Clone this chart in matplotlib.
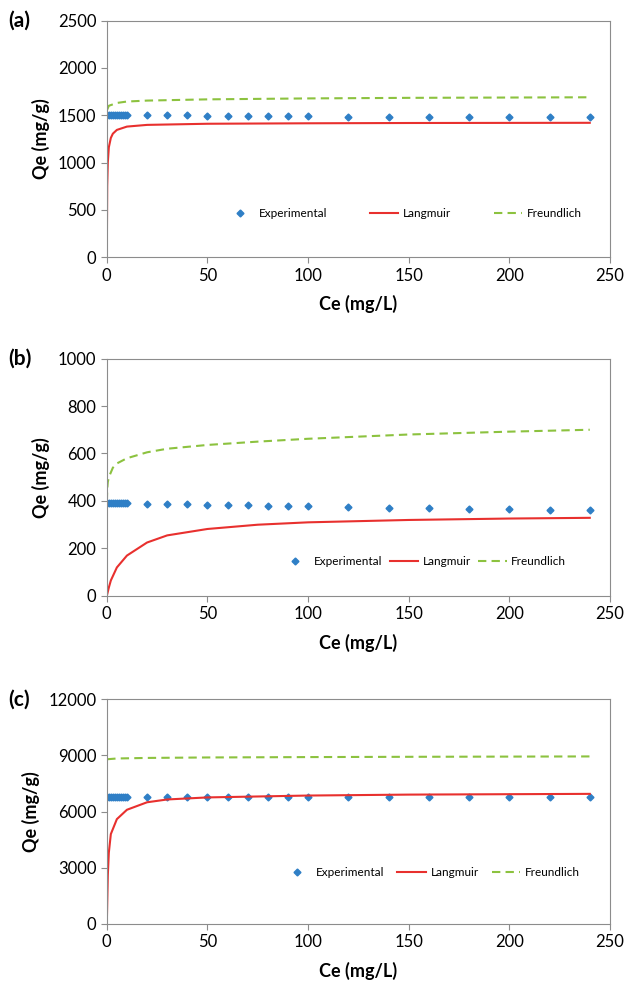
import matplotlib
matplotlib.use("Agg")
import matplotlib.pyplot as plt

plt.rcParams['font.family'] = ['Lato', 'DejaVu Sans']

# Experimental Ce values (mg/L)
ce_exp = [0, 1, 2, 3, 4, 5, 6, 7, 8, 9, 10,
          20, 30, 40, 50, 60, 70, 80, 90, 100,
          120, 140, 160, 180, 200, 220, 240]

# (a)
qe_exp_a = [1505] * 11 + [1505, 1505, 1505, 1495, 1495, 1495, 1495, 1495, 1495,
                          1485, 1485, 1485, 1485, 1478, 1478, 1478]
lang_x_a = [0, 0.2, 0.5, 1, 2, 3, 5, 10, 20, 50, 100, 150, 240]
lang_y_a = [0, 750, 1000, 1160, 1260, 1305, 1345, 1380, 1398, 1410, 1415, 1418, 1420]
freu_x_a = [0.2, 1, 5, 10, 20, 50, 100, 150, 240]
freu_y_a = [1560, 1600, 1630, 1645, 1655, 1668, 1678, 1684, 1690]

# (b)
qe_exp_b = [390] * 11 + [387, 387, 387, 383, 383, 383, 380, 380, 380,
                         376, 372, 372, 368, 365, 362, 362]
lang_x_b = [0, 1, 2, 5, 10, 20, 30, 50, 75, 100, 150, 200, 240]
lang_y_b = [0, 35, 65, 120, 170, 225, 255, 282, 300, 310, 320, 326, 329]
freu_x_b = [0.05, 0.2, 0.5, 1, 3, 5, 10, 20, 30, 50, 75, 100, 150, 200, 240]
freu_y_b = [400, 450, 480, 500, 540, 558, 580, 605, 620, 636, 650, 662, 680, 692, 700]

# (c)
qe_exp_c = [6800] * 11 + [6800, 6800, 6790, 6790, 6790, 6790, 6790, 6790, 6790,
                          6760, 6760, 6760, 6760, 6760, 6760, 6760]
lang_x_c = [0, 0.5, 1, 2, 5, 10, 20, 30, 50, 100, 150, 240]
lang_y_c = [0, 2600, 3800, 4800, 5600, 6100, 6500, 6650, 6760, 6860, 6910, 6950]
freu_x_c = [0.2, 5, 20, 50, 100, 150, 240]
freu_y_c = [8800, 8840, 8870, 8895, 8915, 8930, 8950]

panels = [
    ("(a)", qe_exp_a, lang_x_a, lang_y_a, freu_x_a, freu_y_a, 2500, 500, 0.185, 0.59, 3.6),
    ("(b)", qe_exp_b, lang_x_b, lang_y_b, freu_x_b, freu_y_b, 1000, 200, 0.145, 0.63, 0.6),
    ("(c)", qe_exp_c, lang_x_c, lang_y_c, freu_x_c, freu_y_c, 12000, 3000, 0.23, 0.645, 1.1),
]
positions = [
    [0.169, 0.739, 0.796, 0.240],
    [0.169, 0.395, 0.796, 0.241],
    [0.169, 0.062, 0.796, 0.228],
]

fig = plt.figure(figsize=(6.32, 9.85), dpi=100)

for pos, (tag, qe, lx, ly, fx, fy, ymax, ystep, leg_y, leg_x, colsp) in zip(positions, panels):
    ax = fig.add_axes(pos)
    ax.plot(ce_exp, qe, linestyle='none', marker='D', markersize=3.5,
            color='#2f7fc6', label='Experimental')
    ax.plot(lx, ly, color='#e8302e', linewidth=1.5, label='Langmuir')
    ax.plot(fx, fy, color='#8cc23f', linewidth=1.5, linestyle=(0, (4, 2.5)),
            label='Freundlich')
    ax.set_xlim(0, 250)
    ax.set_ylim(0, ymax)
    ax.set_xticks(range(0, 251, 50))
    ax.set_yticks(range(0, ymax + 1, ystep))
    for s in ax.spines.values():
        s.set_color('#8c8c8c')
    ax.tick_params(colors='#8c8c8c', labelcolor='black', labelsize=12,
                   direction='out', length=4)
    ax.set_xlabel('Ce (mg/L)', fontsize=13, fontweight='bold', labelpad=8)
    ax.set_ylabel('Qe (mg/g)', fontsize=13, fontweight='bold', labelpad=6)
    ax.legend(loc='center', bbox_to_anchor=(leg_x, leg_y),
              ncol=3, frameon=False, fontsize=8.5, columnspacing=colsp,
              handlelength=2.4, handletextpad=0.4)
    ax.text(-0.195, 1.0, tag, transform=ax.transAxes, fontsize=15,
            fontweight='bold', va='center', ha='left')

fig.savefig('out.png', dpi=100)
